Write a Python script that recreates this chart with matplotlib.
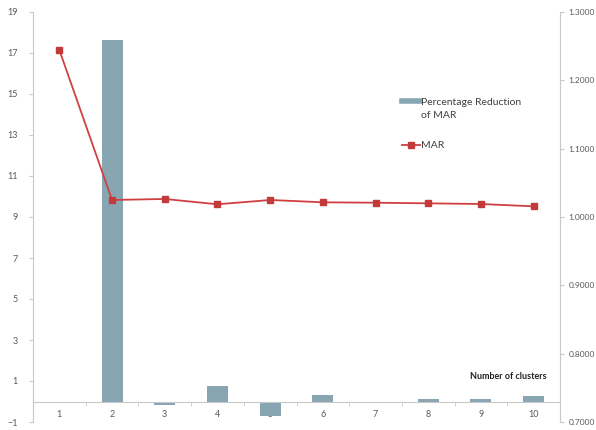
import matplotlib
matplotlib.use("Agg")
import matplotlib.pyplot as plt
from matplotlib.lines import Line2D
from matplotlib.ticker import FixedLocator, FormatStrFormatter

plt.rcParams['font.family'] = ['Lato', 'DejaVu Sans']

clusters = [1, 2, 3, 4, 5, 6, 7, 8, 9, 10]
pct_reduction = [0.0, 17.65, -0.16, 0.78, -0.73, 0.33, -0.02, 0.10, 0.13, 0.26]
mar = [1.2444, 1.0249, 1.0264, 1.0186, 1.0249, 1.0215, 1.0209, 1.0200, 1.0190, 1.0156]
left_ticks = [-1, 1, 3, 5, 7, 9, 11, 13, 15, 17, 19]
right_ticks = [0.7, 0.8, 0.9, 1.0, 1.1, 1.2, 1.3]

bar_color = '#88a6b2'
line_color = '#d04040'
marker_color = '#c23a3a'
axis_color = '#c8c8c8'
text_color = '#595959'

fig = plt.figure(figsize=(5.96, 4.30), dpi=100)
ax = fig.add_axes([33 / 596, 8 / 430, (560 - 33) / 596, (418 - 8) / 430])
ax2 = ax.twinx()

ax.bar(clusters, pct_reduction, width=0.4, color=bar_color, zorder=2)
ax.set_xlim(0.5, 10.5)
ax.set_ylim(-1, 19)
ax.set_yticks(left_ticks)
ax.set_xticks(clusters)
ax.xaxis.set_minor_locator(FixedLocator([c + 0.5 for c in clusters[:-1]]))

ax2.plot(clusters, mar, color=line_color, lw=1.3, marker='s', ms=5,
         mfc=marker_color, mec=marker_color, zorder=3)
ax2.set_ylim(0.7, 1.3)
ax2.set_yticks(right_ticks)
ax2.yaxis.set_major_formatter(FormatStrFormatter('%.4f'))

for a in (ax, ax2):
    a.spines['top'].set_visible(False)
    for s in a.spines.values():
        s.set_color(axis_color)
        s.set_linewidth(0.8)
    a.patch.set_visible(False)

ax.spines['right'].set_visible(False)
ax.spines['bottom'].set_position(('data', 0))
ax2.spines['left'].set_visible(False)
ax2.spines['bottom'].set_visible(False)

ax.tick_params(axis='y', length=3, color=axis_color, labelsize=6.5,
               labelcolor=text_color, pad=8)
ax.tick_params(axis='x', which='major', length=0, labelsize=6.5,
               labelcolor=text_color, pad=6)
ax.tick_params(axis='x', which='minor', length=3, color=axis_color, direction='out')
ax2.tick_params(axis='y', length=3, color=axis_color, labelsize=6,
                labelcolor=text_color, pad=3)

ax.text(0.975, 0.11, 'Number of clusters', transform=ax.transAxes,
        ha='right', va='center', fontsize=6.5, fontweight='bold', color='#222222')

# Legend: bar entry (two-line label) and line entry
bar_handles = [Line2D([0], [0], color=bar_color, lw=4),
               Line2D([0], [0], color='none', lw=0)]
leg1 = ax2.legend(bar_handles, ['Percentage Reduction', 'of MAR'],
                  loc='upper left', bbox_to_anchor=(0.70, 0.792),
                  frameon=False, fontsize=7.5, labelcolor='#404040',
                  handlelength=1.7, handletextpad=0.1, labelspacing=0.35,
                  borderaxespad=0, borderpad=0)
ax2.add_artist(leg1)
line_handle = [Line2D([0], [0], color=line_color, lw=1.3, marker='s', ms=5,
                      mfc=marker_color, mec=marker_color)]
ax2.legend(line_handle, ['MAR'], loc='upper left', bbox_to_anchor=(0.70, 0.685),
           frameon=False, fontsize=7.5, labelcolor='#404040',
           handlelength=1.7, handletextpad=0.1, borderaxespad=0, borderpad=0)

fig.savefig('out.png', dpi=100)
